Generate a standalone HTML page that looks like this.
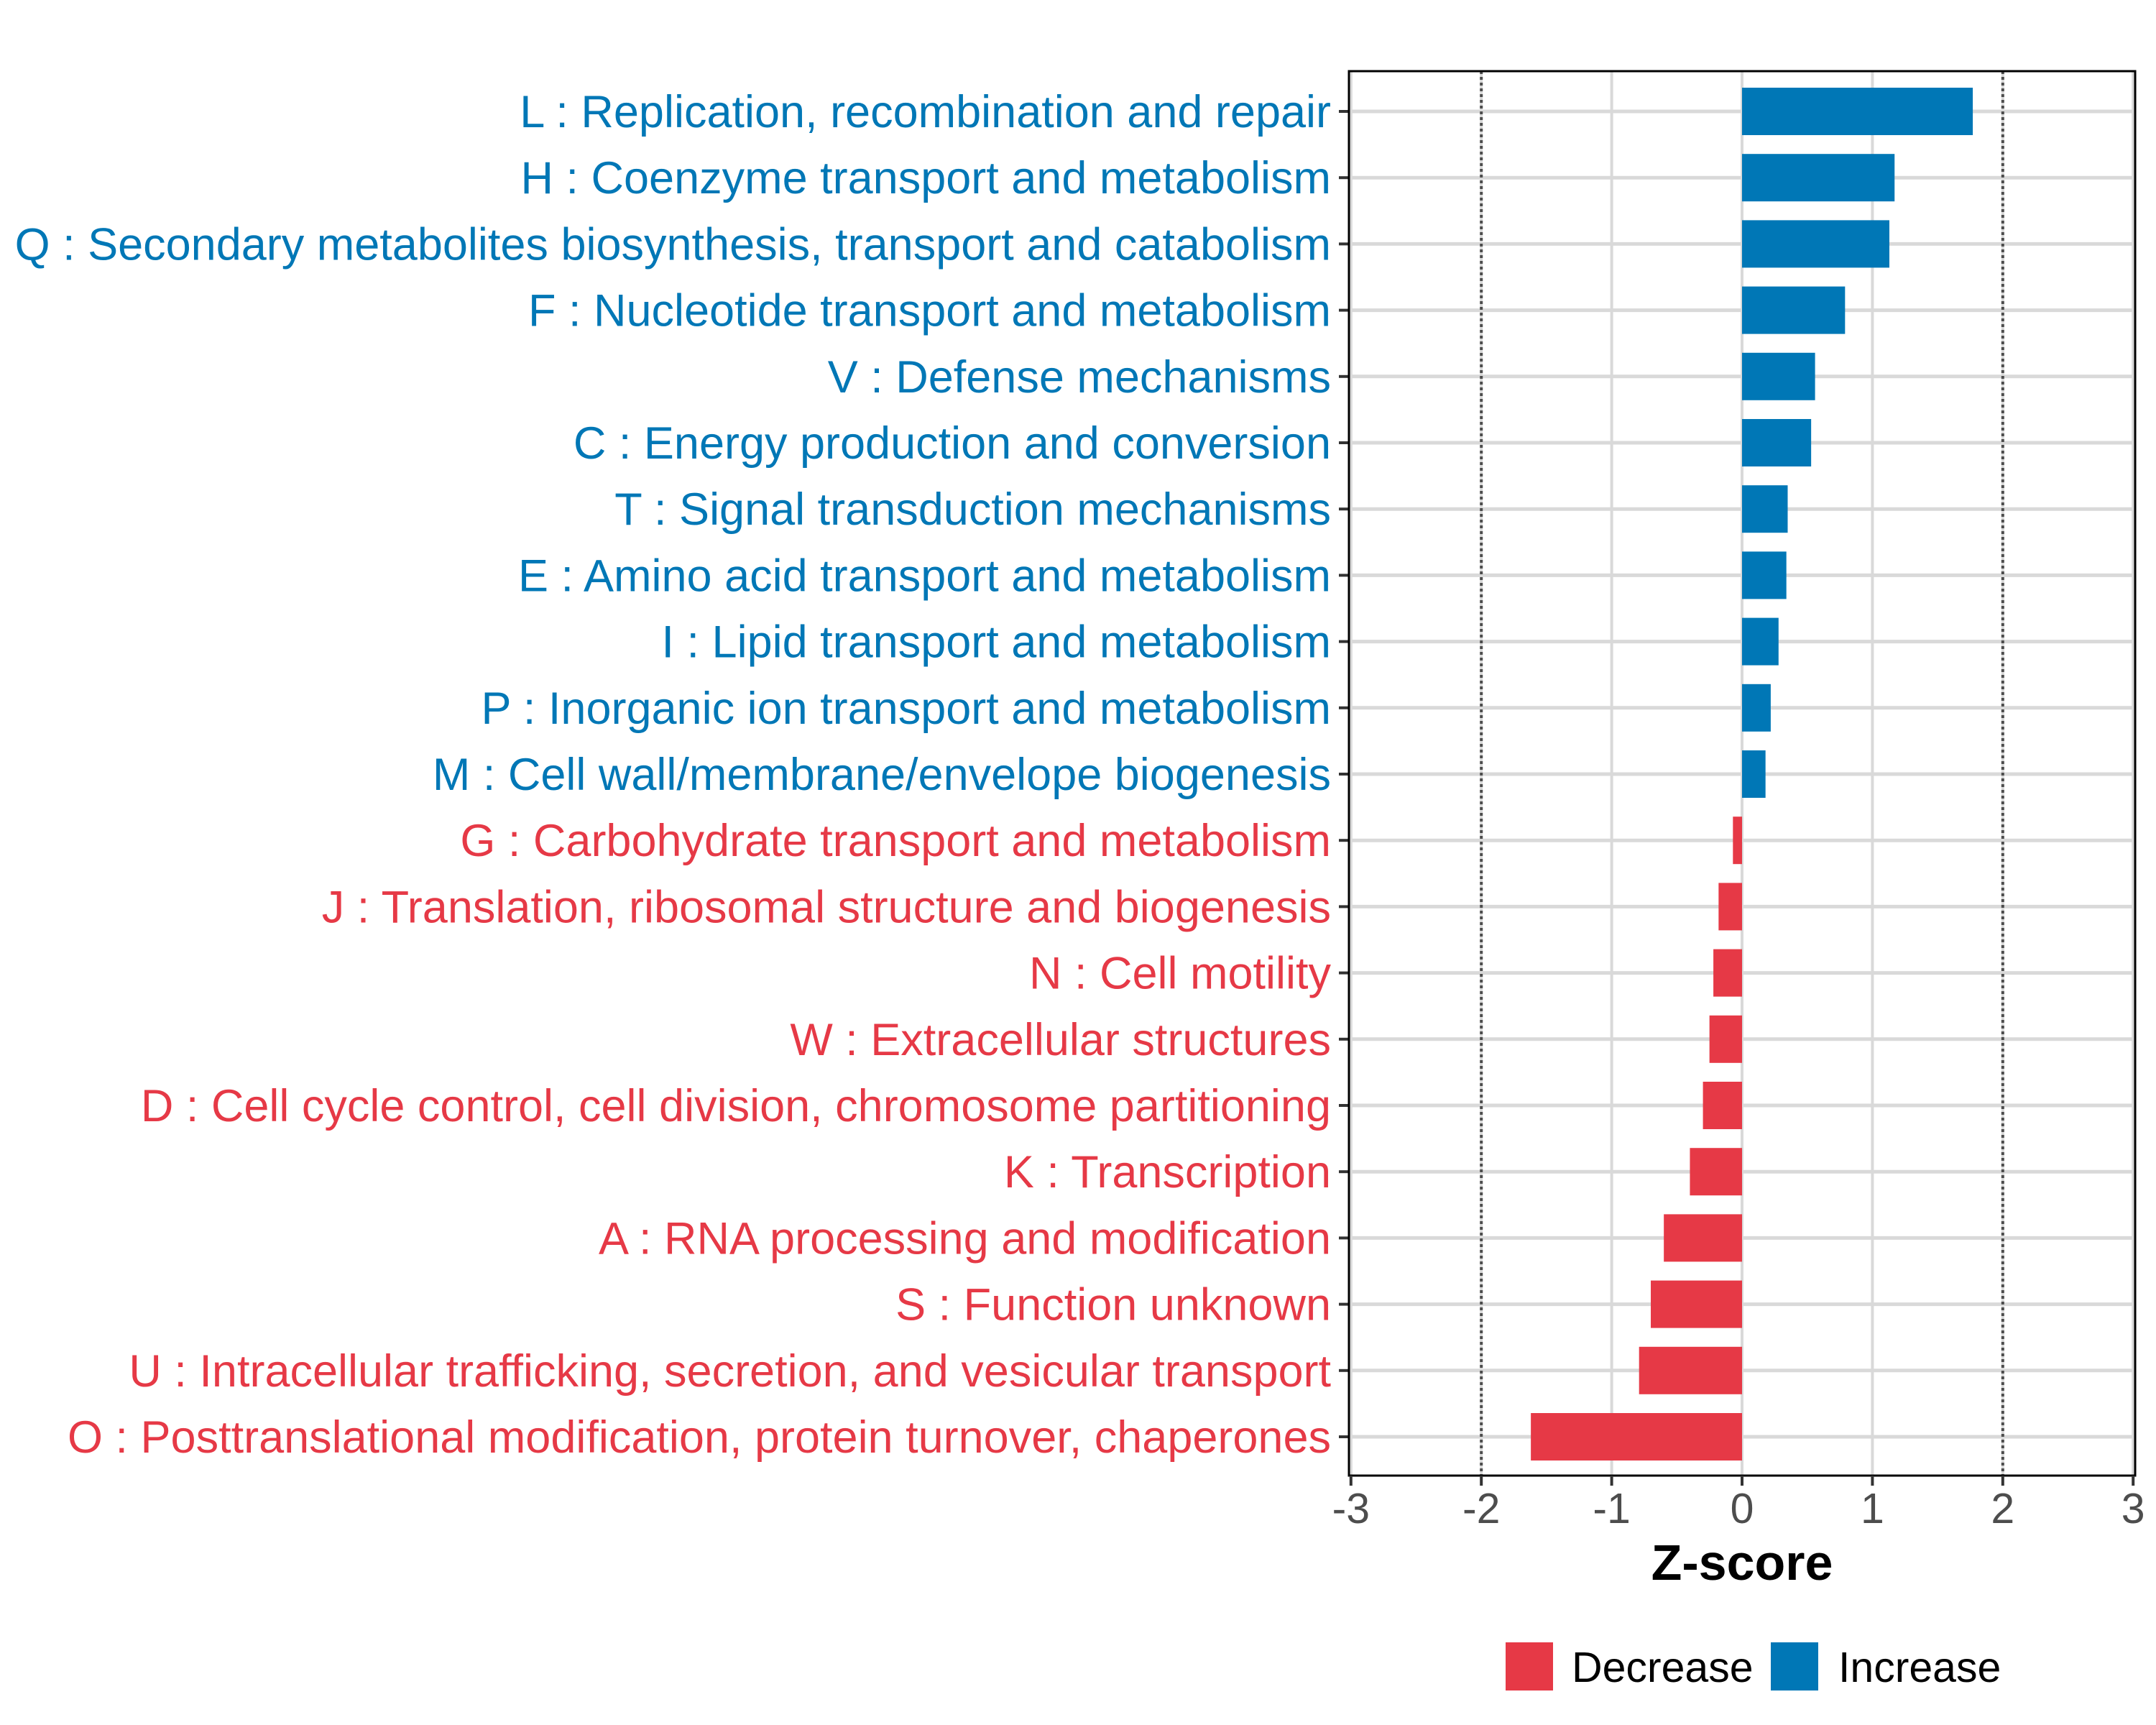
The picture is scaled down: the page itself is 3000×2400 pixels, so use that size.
<!DOCTYPE html>
<html><head><meta charset="utf-8"><style>
html,body{margin:0;padding:0;background:#fff;}
svg{display:block;font-family:"Liberation Sans",Arial,sans-serif;}
</style></head><body>
<svg id="chart" width="3000" height="2400" viewBox="0 0 3000 2400" xmlns="http://www.w3.org/2000/svg">
<g id="grid"></g>
<g id="bars"></g>
<g id="ylabels"></g>
<g id="xaxis"></g>
<text x="2424" y="2198" text-anchor="middle" font-size="70" font-weight="bold" fill="#000">Z-score</text>
<g>
<rect x="2095" y="2285" width="66" height="67" fill="#e63946"/>
<text x="2187" y="2340" font-size="59" fill="#000">Decrease</text>
<rect x="2464" y="2285" width="66" height="67" fill="#0077b6"/>
<text x="2558" y="2340" font-size="59" fill="#000">Increase</text>
</g>
</svg>
<script>
const categories = [
"L : Replication, recombination and repair",
"H : Coenzyme transport and metabolism",
"Q : Secondary metabolites biosynthesis, transport and catabolism",
"F : Nucleotide transport and metabolism",
"V : Defense mechanisms",
"C : Energy production and conversion",
"T : Signal transduction mechanisms",
"E : Amino acid transport and metabolism",
"I : Lipid transport and metabolism",
"P : Inorganic ion transport and metabolism",
"M : Cell wall/membrane/envelope biogenesis",
"G : Carbohydrate transport and metabolism",
"J : Translation, ribosomal structure and biogenesis",
"N : Cell motility",
"W : Extracellular structures",
"D : Cell cycle control, cell division, chromosome partitioning",
"K : Transcription",
"A : RNA processing and modification",
"S : Function unknown",
"U : Intracellular trafficking, secretion, and vesicular transport",
"O : Posttranslational modification, protein turnover, chaperones"
];
const zscores = [1.77,1.17,1.13,0.79,0.56,0.53,0.35,0.34,0.28,0.22,0.18,-0.07,-0.18,-0.22,-0.25,-0.30,-0.40,-0.60,-0.70,-0.79,-1.62];
const xTicks = [-3,-2,-1,0,1,2,3];
const xTickLabels = ["-3","-2","-1","0","1","2","3"];
const refLines = [-2,2];

const NS="http://www.w3.org/2000/svg";
const L=1877,R=2971,T=99,B=2053;
const x0=2424,unit=181.4;
function xs(v){return x0+v*unit;}
const firstY=155,step=(1999-155)/(categories.length-1);
function ys(i){return firstY+i*step;}
const BLUE="#0077b6",RED="#e63946";
function mk(tag,attrs,parent){const e=document.createElementNS(NS,tag);for(const k in attrs)e.setAttribute(k,attrs[k]);parent.appendChild(e);return e;}
const grid=document.getElementById('grid'),bars=document.getElementById('bars'),yl=document.getElementById('ylabels'),xa=document.getElementById('xaxis');
xTicks.forEach(t=>{
 const l=mk('line',{x1:xs(t),x2:xs(t),y1:T,y2:B,stroke:'#d9d9d9','stroke-width':4},grid);
 
 
});
categories.forEach((c,i)=>{
 const l=mk('line',{x1:L,x2:R,y1:ys(i),y2:ys(i),stroke:'#d9d9d9','stroke-width':5},grid);
 
 
});
refLines.forEach(t=>{
 const l=mk('line',{x1:xs(t),x2:xs(t),y1:T,y2:B,stroke:'#4d4d4d','stroke-width':4,'stroke-dasharray':'4 4'},grid);
 
 
});
categories.forEach((c,i)=>{
 const v=zscores[i];const col=v>=0?BLUE:RED;
 const r=mk('rect',{x:Math.min(xs(0),xs(v)),y:ys(i)-33,width:Math.abs(xs(v)-xs(0)),height:66,fill:col},bars);
 
 
 const t=mk('text',{x:1852,y:ys(i)+22,'text-anchor':'end','font-size':63,fill:col},yl);
 t.textContent=c;
 
 
 const tk=mk('line',{x1:1863,x2:L,y1:ys(i),y2:ys(i),stroke:'#333','stroke-width':4},yl);
 
 
});
const border=mk('rect',{x:L,y:T,width:R-L,height:B-T,fill:'none',stroke:'#000','stroke-width':3},xa);


xTicks.forEach((t,i)=>{
 const tk=mk('line',{x1:xs(t),x2:xs(t),y1:B,y2:B+14,stroke:'#333','stroke-width':4},xa);
 
 
 const lb=mk('text',{x:xs(t),y:2119,'text-anchor':'middle','font-size':59,fill:'#4d4d4d'},xa);
 lb.textContent=xTickLabels[i];
 
 
});
</script>
</body></html>
